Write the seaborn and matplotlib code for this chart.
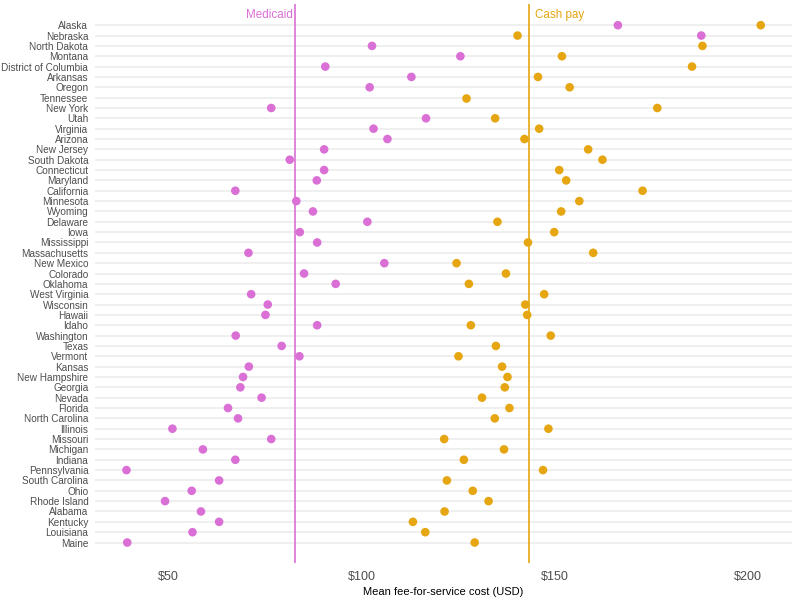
import numpy as np
import pandas as pd
import matplotlib
matplotlib.use("Agg")
import matplotlib.pyplot as plt
import seaborn as sns

states = ["Alaska", "Nebraska", "North Dakota", "Montana", "District of Columbia", "Arkansas",
          "Oregon", "Tennessee", "New York", "Utah", "Virginia", "Arizona", "New Jersey",
          "South Dakota", "Connecticut", "Maryland", "California", "Minnesota", "Wyoming",
          "Delaware", "Iowa", "Mississippi", "Massachusetts", "New Mexico", "Colorado",
          "Oklahoma", "West Virginia", "Wisconsin", "Hawaii", "Idaho", "Washington", "Texas",
          "Vermont", "Kansas", "New Hampshire", "Georgia", "Nevada", "Florida",
          "North Carolina", "Illinois", "Missouri", "Michigan", "Indiana", "Pennsylvania",
          "South Carolina", "Ohio", "Rhode Island", "Alabama", "Kentucky", "Louisiana", "Maine"]

medicaid = [166.4, 188.0, 102.7, 125.6, 90.6, 112.9, 102.1, np.nan, 76.6, 116.7, 103.1, 106.7,
            90.3, 81.4, 90.3, 88.4, 67.3, 83.1, 87.4, 101.5, 84.0, 88.5, 70.7, 105.9, 85.1,
            93.3, 71.4, 75.7, 75.1, 88.5, 67.4, 79.3, 83.9, 70.8, 69.3, 68.6, 74.1, 65.4,
            68.0, 51.0, 76.6, 58.9, 67.3, 39.1, 63.1, 56.0, 49.1, 58.4, 63.1, 56.2, 39.3]

cash_pay = [203.4, 140.4, 188.3, 151.9, 185.6, 145.7, 153.9, 127.0, 176.6, 134.6, 146.0, 142.2,
            158.7, 162.4, 151.2, 153.0, 172.8, 156.4, 151.7, 135.2, 149.9, 143.1, 160.0, 124.6,
            137.4, 127.8, 147.3, 142.4, 142.9, 128.3, 149.0, 134.8, 125.1, 136.4, 137.8, 137.1,
            131.2, 138.3, 134.5, 148.4, 121.4, 136.9, 126.5, 147.0, 122.1, 128.8, 132.9, 121.5,
            113.3, 116.5, 129.3]

series = ["Medicaid", "Cash pay"]
colors = {"Medicaid": "#DA70D6", "Cash pay": "#E6A612"}
x_ticks = [50, 100, 150, 200]
x_tick_labels = ["$50", "$100", "$150", "$200"]

df = pd.DataFrame({
    "state": states * 2,
    "cost": medicaid + cash_pay,
    "payer": ["Medicaid"] * len(states) + ["Cash pay"] * len(states),
}).dropna()

sns.set_theme(style="white")
plt.rcParams["font.family"] = ["Liberation Sans", "DejaVu Sans"]

fig = plt.figure(figsize=(8, 6), dpi=100)
ax = fig.add_axes([0.119, 0.062, 0.871, 0.931])

# horizontal grid lines per state
for i in range(len(states)):
    ax.axhline(i, color="#EBEBEB", lw=1.1, zorder=0)

sns.stripplot(data=df, x="cost", y="state", hue="payer", order=states,
              hue_order=series, palette=colors, jitter=False, size=6.2,
              linewidth=0, ax=ax, legend=False, zorder=3)

means = {s: np.nanmean(v) for s, v in zip(series, [medicaid, cash_pay])}
ax.axvline(means["Medicaid"], color=colors["Medicaid"], lw=1.2, zorder=2)
ax.axvline(means["Cash pay"], color=colors["Cash pay"], lw=1.2, zorder=2)
ax.text(means["Medicaid"] - 0.6, -1.0, "Medicaid", color=colors["Medicaid"],
        ha="right", va="center", fontsize=8.4)
ax.text(means["Cash pay"] + 1.5, -1.0, "Cash pay", color=colors["Cash pay"],
        ha="left", va="center", fontsize=8.4)

ax.set_xlim(31.0, 211.5)
ax.set_ylim(51.96, -2.03)
ax.set_xticks(x_ticks)
ax.set_xticklabels(x_tick_labels)
ax.tick_params(axis="x", labelsize=9, labelcolor="#4D4D4D", length=0, pad=6)
ax.tick_params(axis="y", labelsize=7.2, labelcolor="#4D4D4D", length=0, pad=5)
ax.set_xlabel("Mean fee-for-service cost (USD)", fontsize=8, color="black", labelpad=3)
ax.set_ylabel("")
ax.grid(False)
for sp in ax.spines.values():
    sp.set_visible(False)

fig.savefig("out.png", dpi=100)
